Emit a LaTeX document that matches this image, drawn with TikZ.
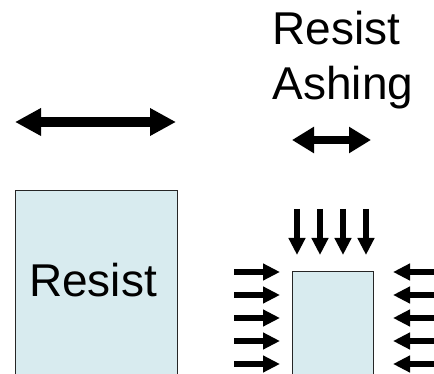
\documentclass[tikz,border=0pt]{standalone}
\usepackage{fontspec}
\setmainfont{Liberation Sans}
\usetikzlibrary{arrows.meta}
\definecolor{resistfill}{RGB}{216,235,239}
\tikzset{
  resistbox/.style={draw=black!85, line width=0.9pt, fill=resistfill},
  bigarrow/.style={line width=10pt, {Triangle[length=26pt,width=26pt]}-{Triangle[length=26pt,width=26pt]}},
  midarrow/.style={line width=7.5pt, {Triangle[length=22pt,width=25pt]}-{Triangle[length=22pt,width=25pt]}},
  ionarrow/.style={line width=5.5pt, -{Triangle[length=17pt,width=16pt]}},
  label/.style={font=\fontsize{46}{55}\selectfont, inner sep=0pt}
}
\begin{document}
\begin{tikzpicture}[x=1pt,y=-1pt]
\clip (0,0) rectangle (434,374);
% boxes
\draw[resistbox] (15,190) rectangle (177,380);
\draw[resistbox] (292,271) rectangle (373,380);
\node[label, anchor=base west] (r1) at (29,297) {Resist};
\node[label, anchor=base west] (r2) at (272.5,45) {Resist};
\node[label, anchor=base west] (r3) at (272.5,100) {Ashing};
% width arrows
\draw[bigarrow] (15,122) -- (176,122);
\draw[midarrow] (292,140) -- (371,140);
% downward arrows
\foreach \x in {297,320,343,366} \draw[ionarrow] (\x,209) -- (\x,255);
% sideways arrows
\foreach \y in {272,295,318,341,364} {
  \draw[ionarrow] (234,\y) -- (280,\y);
  \draw[ionarrow] (434,\y) -- (393,\y);
}
\end{tikzpicture}
\end{document}
